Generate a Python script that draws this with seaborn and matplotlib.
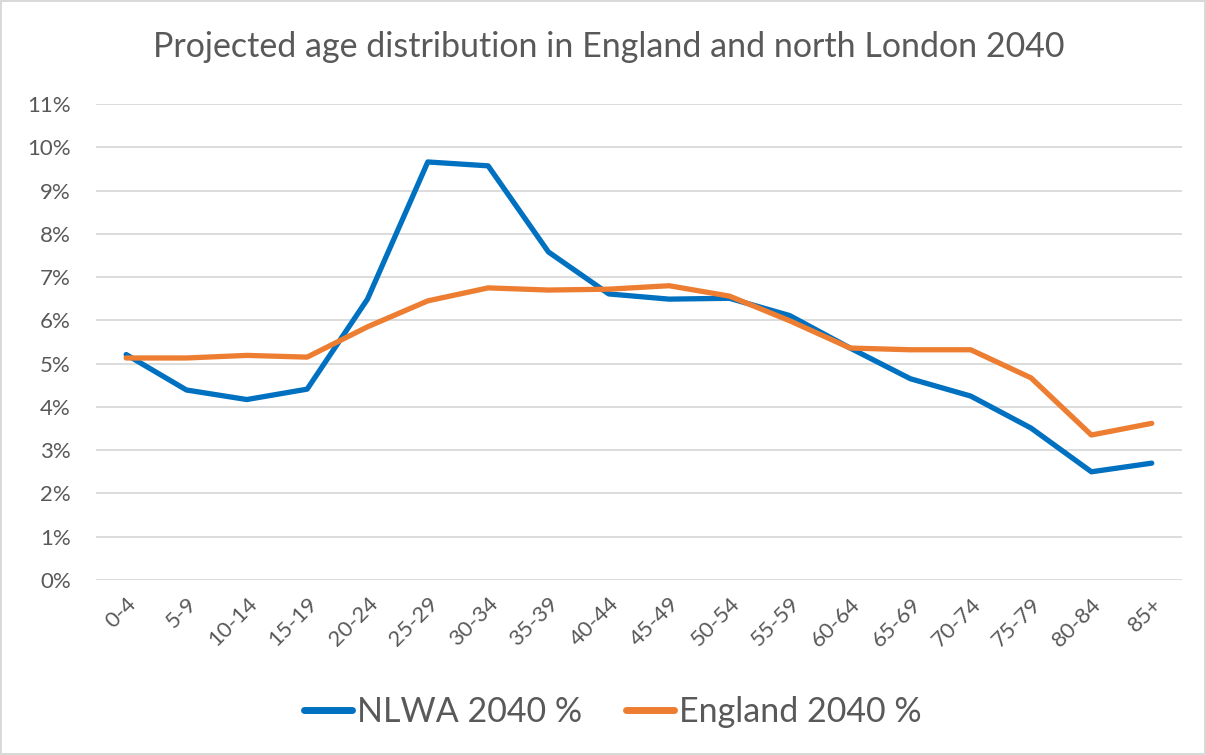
import pandas as pd
import numpy as np
import matplotlib.pyplot as plt
import seaborn as sns
from matplotlib.ticker import PercentFormatter

sns.set_theme(style='white')
plt.rcParams['font.family'] = ['Lato', 'DejaVu Sans']

# age bands and projected shares (%)
age_bands = ['0-4', '5-9', '10-14', '15-19', '20-24', '25-29', '30-34', '35-39', '40-44',
             '45-49', '50-54', '55-59', '60-64', '65-69', '70-74', '75-79', '80-84', '85+']
nlwa_2040 = [5.21, 4.39, 4.17, 4.41, 6.49, 9.66, 9.57, 7.58, 6.61,
             6.49, 6.51, 6.11, 5.36, 4.65, 4.25, 3.51, 2.50, 2.70]
england_2040 = [5.13, 5.13, 5.19, 5.15, 5.85, 6.45, 6.75, 6.70, 6.72,
                6.80, 6.56, 5.99, 5.36, 5.32, 5.32, 4.67, 3.35, 3.62]
series_names = ['NLWA 2040 %', 'England 2040 %']
colours = ['#0070C0', '#ED7D31']

df = pd.DataFrame({
    'age': age_bands * 2,
    'pos': list(range(len(age_bands))) * 2,
    'share': nlwa_2040 + england_2040,
    'series': [series_names[0]] * len(age_bands) + [series_names[1]] * len(age_bands),
})

txt = '#595959'
fig = plt.figure(figsize=(12.06, 7.55), dpi=100, linewidth=1.5, edgecolor='#D9D9D9')
ax = fig.add_axes([0.0796, 0.2318, 0.9004, 0.6305])

sns.lineplot(data=df, x='pos', y='share', hue='series', palette=colours, sort=False,
             linewidth=3.8, ax=ax, legend=True)
for ln in ax.get_lines():
    ln.set_solid_capstyle('round')
    ln.set_solid_joinstyle('round')

ax.set_ylim(0, 11)
ax.set_yticks(np.arange(0, 12, 1))
ax.yaxis.set_major_formatter(PercentFormatter(decimals=0))
ax.set_xlim(-0.5, len(age_bands) - 0.5)
ax.set_xticks(range(len(age_bands)))
ax.set_xticklabels(age_bands, rotation=45, ha='right', rotation_mode='anchor')
ax.grid(axis='y', color='#D9D9D9', linewidth=1.3)
ax.set_axisbelow(True)
for s in ax.spines.values():
    s.set_visible(False)
ax.tick_params(axis='both', length=0, labelsize=16, colors=txt)
ax.tick_params(axis='x', pad=10)
ax.tick_params(axis='y', pad=18)
ax.set_xlabel('')
ax.set_ylabel('')

fig.text(0.505, 0.938, 'Projected age distribution in England and north London 2040',
         ha='center', va='center', fontsize=24.5, color=txt)

handles, labels = ax.get_legend_handles_labels()
ax.get_legend().remove()
for h in handles:
    h.set_linewidth(5)
    h.set_solid_capstyle('round')
leg = fig.legend(handles, labels, loc='center', bbox_to_anchor=(0.508, 0.057), ncol=2,
                 frameon=False, fontsize=24.5, handlelength=1.4, handletextpad=0.15,
                 columnspacing=1.3)
for t in leg.get_texts():
    t.set_color(txt)

fig.savefig('out.png', dpi=100)
